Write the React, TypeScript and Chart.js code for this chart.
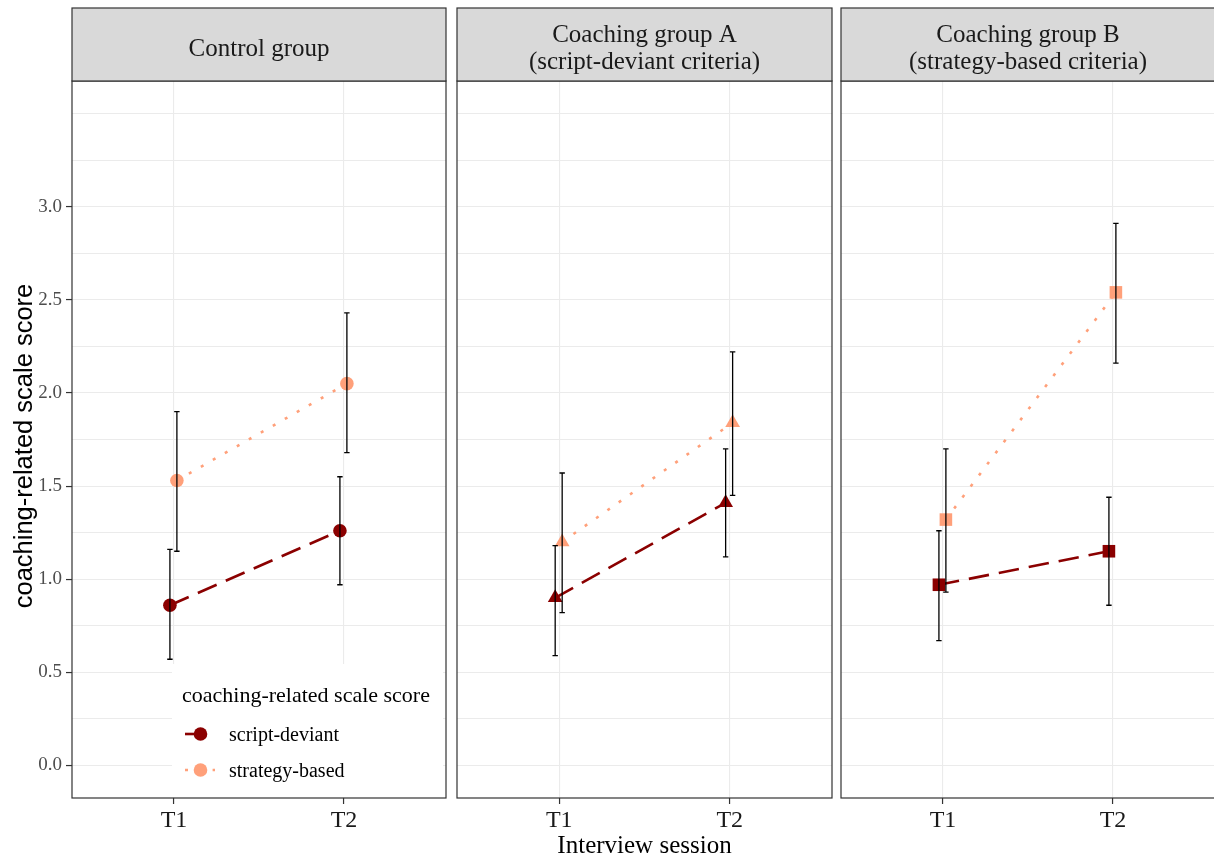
import React, { useEffect, useRef } from 'react';
import { Chart, registerables } from 'chart.js';

Chart.register(...registerables);

// ---------------- data ----------------
const groupTitles = [
  ['Control group'],
  ['Coaching group A', '(script-deviant criteria)'],
  ['Coaching group B', '(strategy-based criteria)'],
];
const sessions = ['T1', 'T2'];
const seriesNames = ['script-deviant', 'strategy-based'];

// [group][session]
const scriptMean = [[0.86, 1.26], [0.90, 1.41], [0.97, 1.15]];
const scriptLow = [[0.57, 0.97], [0.59, 1.12], [0.67, 0.86]];
const scriptHigh = [[1.16, 1.55], [1.18, 1.70], [1.26, 1.44]];
const strategyMean = [[1.53, 2.05], [1.20, 1.84], [1.32, 2.54]];
const strategyLow = [[1.15, 1.68], [0.82, 1.45], [0.93, 2.16]];
const strategyHigh = [[1.90, 2.43], [1.57, 2.22], [1.70, 2.91]];

const yTickValues = [0, 0.5, 1, 1.5, 2, 2.5, 3];
const yTickLabels = ['0.0', '0.5', '1.0', '1.5', '2.0', '2.5', '3.0'];
const yGridValues = [0, 0.25, 0.5, 0.75, 1, 1.25, 1.5, 1.75, 2, 2.25, 2.5, 2.75, 3, 3.25, 3.5];

const yTitle = 'coaching-related scale score';
const xTitle = 'Interview session';
const legendTitle = 'coaching-related scale score';

// ---------------- styles ----------------
const SERIF = '"Liberation Serif", "Times New Roman", serif';
const SANS = '"Liberation Sans", Arial, sans-serif';
const seriesColors = ['#8B0000', '#FFA07A'];
const seriesDash = [[20.5, 10], [3, 10.8]];
const dodge = [-0.024, 0.017];
const pointStyles = ['circle', 'triangle', 'rect'];
const pointRadii = [6.8, 8.5, 8.9];

const means = [scriptMean, strategyMean];
const lows = [scriptLow, strategyLow];
const highs = [scriptHigh, strategyHigh];

// canvas placement: [left, width, padLeft, padRight]
const panelBoxes = [
  [0, 450, 0, 4],
  [450, 390, 7, 8],
  [836, 384, 5, 5],
];
const STRIP_TOP = 8;
const PANEL_TOP = 81;
const CANVAS_H = 861;
const X_AXIS_H = 63;

function makePlugins(g: number) {
  const errorBars = {
    id: 'errbars',
    afterDatasetsDraw(chart: any) {
      const { ctx, scales } = chart;
      const x = scales.x;
      const y = scales.y;
      ctx.save();
      ctx.strokeStyle = '#000000';
      ctx.lineWidth = 1.3;
      seriesNames.forEach((_, k) => {
        sessions.forEach((__, i) => {
          const px = x.getPixelForValue(i + 1 + dodge[k]);
          const y1 = y.getPixelForValue(lows[k][g][i]);
          const y2 = y.getPixelForValue(highs[k][g][i]);
          ctx.beginPath();
          ctx.moveTo(px, y1);
          ctx.lineTo(px, y2);
          ctx.moveTo(px - 2.7, y1);
          ctx.lineTo(px + 2.7, y1);
          ctx.moveTo(px - 2.7, y2);
          ctx.lineTo(px + 2.7, y2);
          ctx.stroke();
        });
      });
      ctx.restore();
    },
  };

  const frame = {
    id: 'frame',
    afterDraw(chart: any) {
      const { ctx, chartArea } = chart;
      const { left, right, top, bottom } = chartArea;
      ctx.save();
      if (g === 0) {
        // y axis title
        ctx.save();
        ctx.translate(24.5, 446);
        ctx.rotate(-Math.PI / 2);
        ctx.fillStyle = '#000000';
        ctx.font = `25.5px ${SANS}`;
        ctx.textAlign = 'center';
        ctx.textBaseline = 'middle';
        ctx.fillText(yTitle, 0, 0);
        ctx.restore();
        // legend
        const bx = left + 100;
        const bw = right - 3 - bx;
        const by = bottom - 134;
        ctx.fillStyle = '#ffffff';
        ctx.fillRect(bx, by, bw, bottom - 1 - by);
        ctx.fillStyle = '#000000';
        ctx.textAlign = 'left';
        ctx.textBaseline = 'alphabetic';
        ctx.font = `22px ${SERIF}`;
        ctx.fillText(legendTitle, bx + 10, by + 38);
        seriesNames.forEach((name, k) => {
          const cy = by + 70 + k * 36;
          ctx.save();
          ctx.strokeStyle = seriesColors[k];
          ctx.lineWidth = 2.6;
          ctx.lineCap = 'butt';
          ctx.setLineDash(seriesDash[k]);
          ctx.beginPath();
          ctx.moveTo(bx + 13, cy);
          ctx.lineTo(bx + 43, cy);
          ctx.stroke();
          ctx.restore();
          ctx.fillStyle = seriesColors[k];
          ctx.beginPath();
          ctx.arc(bx + 28.5, cy, 6.8, 0, Math.PI * 2);
          ctx.fill();
          ctx.fillStyle = '#000000';
          ctx.font = `20px ${SERIF}`;
          ctx.fillText(name, bx + 57, cy + 7);
        });
      }
      // panel border
      ctx.strokeStyle = '#333333';
      ctx.lineWidth = 1.2;
      ctx.strokeRect(left, top, right - left, bottom - top);
      // strip
      ctx.fillStyle = '#D9D9D9';
      ctx.fillRect(left, STRIP_TOP, right - left, top - STRIP_TOP);
      ctx.strokeRect(left, STRIP_TOP, right - left, top - STRIP_TOP);
      ctx.fillStyle = '#1A1A1A';
      ctx.font = `25px ${SERIF}`;
      ctx.textAlign = 'center';
      ctx.textBaseline = 'alphabetic';
      const lines = groupTitles[g];
      const cx = (left + right) / 2;
      const cyStrip = (STRIP_TOP + top) / 2 + 11;
      const lh = 26.5;
      lines.forEach((t, j) => {
        ctx.fillText(t, cx, cyStrip + (j - (lines.length - 1) / 2) * lh);
      });
      ctx.restore();
    },
  };
  return [errorBars, frame];
}

function makeConfig(g: number): any {
  const [, , padL, padR] = panelBoxes[g];
  const first = g === 0;
  return {
    type: 'line',
    data: {
      datasets: seriesNames.map((name, k) => ({
        label: name,
        data: sessions.map((_, i) => ({ x: i + 1 + dodge[k], y: means[k][g][i] })),
        borderColor: seriesColors[k],
        backgroundColor: seriesColors[k],
        borderWidth: 2.6,
        borderDash: seriesDash[k],
        borderCapStyle: 'butt',
        pointStyle: pointStyles[g],
        pointRadius: pointRadii[g],
        pointHoverRadius: pointRadii[g],
        pointBorderWidth: 0,
        pointBackgroundColor: seriesColors[k],
        tension: 0,
        fill: false,
        clip: false,
      })),
    },
    options: {
      animation: false,
      responsive: false,
      events: [],
      layout: { autoPadding: false, padding: { left: padL, right: padR, top: PANEL_TOP, bottom: 0 } },
      plugins: {
        legend: { display: false },
        tooltip: { enabled: false },
        title: { display: false },
      },
      scales: {
        x: {
          type: 'linear',
          min: 0.4,
          max: 2.6,
          afterBuildTicks: (s: any) => {
            s.ticks = sessions.map((_, i) => ({ value: i + 1 }));
          },
          afterFit: (s: any) => {
            s.height = X_AXIS_H;
          },
          border: { display: false },
          grid: {
            color: '#EBEBEB',
            lineWidth: 1.1,
            drawTicks: true,
            tickLength: 6,
            tickColor: '#333333',
            tickWidth: 1.2,
          },
          ticks: {
            autoSkip: false,
            maxRotation: 0,
            padding: 2,
            color: '#1A1A1A',
            font: { family: SERIF, size: 24 },
            callback: (v: number) => sessions[Math.round(v) - 1] ?? '',
          },
          title: {
            display: g === 1,
            text: xTitle,
            color: '#000000',
            font: { family: SERIF, size: 25, lineHeight: 1 },
            padding: { top: 0, bottom: 2 },
          },
        },
        y: {
          type: 'linear',
          min: -0.175,
          max: 3.675,
          afterBuildTicks: (s: any) => {
            s.ticks = yGridValues.map((v) => ({ value: v }));
          },
          afterFit: (s: any) => {
            s.width = first ? 72 : 0;
          },
          border: { display: false },
          grid: {
            color: '#EBEBEB',
            lineWidth: 1.1,
            drawTicks: first,
            tickLength: 6,
            tickWidth: 1.2,
            tickColor: (c: any) =>
              c.tick && yTickValues.indexOf(c.tick.value) >= 0 ? '#333333' : 'rgba(0,0,0,0)',
          },
          ticks: {
            display: first,
            autoSkip: false,
            padding: 4,
            color: '#4D4D4D',
            font: { family: SERIF, size: 19 },
            callback: (v: number) => {
              const idx = yTickValues.indexOf(v);
              return idx >= 0 ? yTickLabels[idx] : '';
            },
          },
          title: { display: false },
        },
      },
    },
    plugins: makePlugins(g),
  };
}

function Panel({ g }: { g: number }) {
  const ref = useRef<HTMLCanvasElement | null>(null);
  useEffect(() => {
    if (!ref.current) return;
    const chart = new Chart(ref.current, makeConfig(g));
    return () => chart.destroy();
  }, [g]);
  const [left, width] = panelBoxes[g];
  return (
    <canvas
      ref={ref}
      width={width}
      height={CANVAS_H}
      style={{ position: 'absolute', left, top: 0, width, height: CANVAS_H, display: 'block' }}
    />
  );
}

export default function App() {
  return (
    <div
      style={{
        position: 'absolute',
        left: 0,
        top: 0,
        width: 1214,
        height: 861,
        overflow: 'hidden',
        background: '#ffffff',
      }}
    >
      {groupTitles.map((_, g) => (
        <Panel key={g} g={g} />
      ))}
    </div>
  );
}
